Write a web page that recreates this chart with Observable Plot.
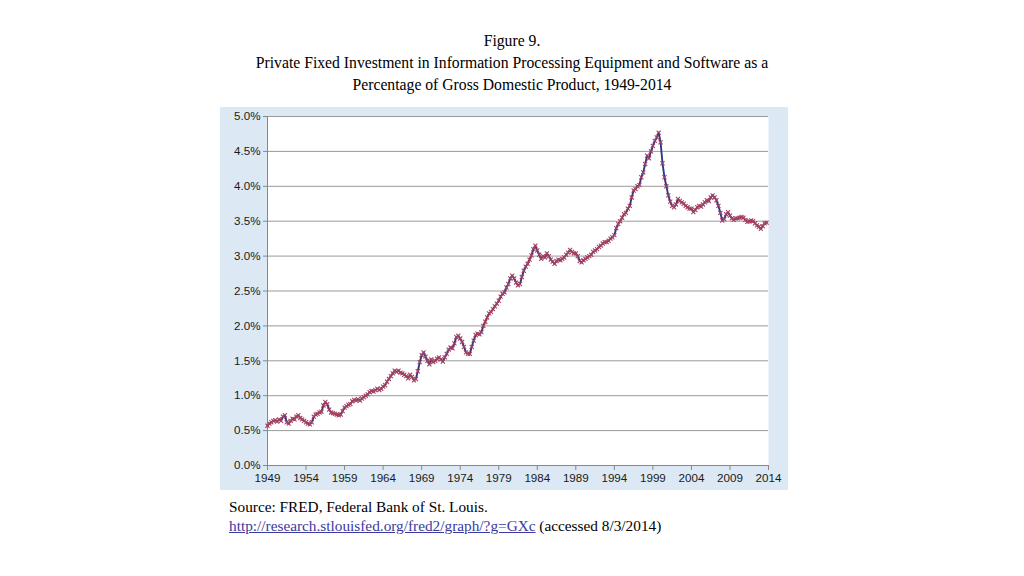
<!DOCTYPE html>
<html>
<head>
<meta charset="utf-8">
<script src="https://cdn.jsdelivr.net/npm/d3@7"></script>
<script src="https://cdn.jsdelivr.net/npm/@observablehq/plot@0.6"></script>
<style>
  html, body { margin: 0; padding: 0; background: #fff; }
  body { width: 1024px; height: 576px; position: relative; overflow: hidden; }
  .title { position: absolute; left: 0; width: 1024px; text-align: center; font-family: "Liberation Serif", "Times New Roman", serif; font-size: 15.7px; color: #000; white-space: nowrap; }
  .src { position: absolute; left: 229px; font-family: "Liberation Serif", "Times New Roman", serif; font-size: 15.3px; color: #000; white-space: nowrap; }
  .src a { color: #3a3aa0; text-decoration: underline; }
  #chart { position: absolute; left: 220px; top: 107px; }
  #chart svg { background: #dce9f5; }
</style>
</head>
<body>
<div class="title" style="top:32px">Figure 9.</div>
<div class="title" style="top:54px">Private Fixed Investment in Information Processing Equipment and Software as a</div>
<div class="title" style="top:76px">Percentage of Gross Domestic Product, 1949-2014</div>
<div id="chart"></div>
<div class="src" style="top:498px">Source: FRED, Federal Bank of St. Louis.</div>
<div class="src" style="top:517px"><a>http://research.stlouisfed.org/fred2/graph/?g=GXc</a> (accessed 8/3/2014)</div>
<script>
// Quarterly share of GDP (%), 1949Q1 .. 2013Q4
const firstYear = 1949;
const pct = [
  0.57, 0.60, 0.62, 0.64,  // 1949
  0.65, 0.63, 0.66, 0.64,  // 1950
  0.70, 0.72, 0.62, 0.60,  // 1951
  0.64, 0.67, 0.66, 0.70,  // 1952
  0.72, 0.68, 0.66, 0.64,  // 1953
  0.62, 0.60, 0.59, 0.62,  // 1954
  0.70, 0.73, 0.74, 0.76,  // 1955
  0.77, 0.86, 0.91, 0.88,  // 1956
  0.80, 0.76, 0.75, 0.74,  // 1957
  0.73, 0.72, 0.73, 0.78,  // 1958
  0.83, 0.85, 0.87, 0.88,  // 1959
  0.92, 0.94, 0.93, 0.95,  // 1960
  0.93, 0.96, 0.98, 1.00,  // 1961
  1.02, 1.05, 1.07, 1.06,  // 1962
  1.08, 1.10, 1.08, 1.10,  // 1963
  1.13, 1.15, 1.20, 1.24,  // 1964
  1.28, 1.32, 1.36, 1.34,  // 1965
  1.36, 1.33, 1.32, 1.30,  // 1966
  1.28, 1.25, 1.30, 1.27,  // 1967
  1.22, 1.24, 1.35, 1.48,  // 1968
  1.58, 1.62, 1.56, 1.50,  // 1969
  1.45, 1.52, 1.48, 1.50,  // 1970
  1.53, 1.55, 1.52, 1.49,  // 1971
  1.55, 1.60, 1.66, 1.69,  // 1972
  1.68, 1.75, 1.84, 1.86,  // 1973
  1.82, 1.77, 1.70, 1.62,  // 1974
  1.60, 1.60, 1.70, 1.79,  // 1975
  1.87, 1.89, 1.88, 1.91,  // 1976
  2.00, 2.06, 2.12, 2.18,  // 1977
  2.20, 2.24, 2.28, 2.32,  // 1978
  2.36, 2.42, 2.46, 2.48,  // 1979
  2.55, 2.60, 2.68, 2.72,  // 1980
  2.68, 2.62, 2.58, 2.60,  // 1981
  2.70, 2.79, 2.85, 2.89,  // 1982
  2.95, 3.01, 3.10, 3.15,  // 1983
  3.08, 3.02, 2.96, 3.00,  // 1984
  2.98, 3.04, 3.00, 2.95,  // 1985
  2.92, 2.89, 2.93, 2.95,  // 1986
  2.94, 2.96, 2.98, 3.02,  // 1987
  3.05, 3.09, 3.06, 3.04,  // 1988
  3.04, 3.00, 2.93, 2.91,  // 1989
  2.94, 2.96, 2.98, 3.00,  // 1990
  3.02, 3.06, 3.08, 3.10,  // 1991
  3.13, 3.15, 3.18, 3.20,  // 1992
  3.20, 3.22, 3.25, 3.27,  // 1993
  3.30, 3.40, 3.46, 3.50,  // 1994
  3.55, 3.60, 3.62, 3.68,  // 1995
  3.72, 3.84, 3.94, 3.96,  // 1996
  4.00, 4.02, 4.13, 4.20,  // 1997
  4.32, 4.44, 4.40, 4.50,  // 1998
  4.58, 4.65, 4.70, 4.77,  // 1999
  4.63, 4.33, 4.13, 4.00,  // 2000
  3.87, 3.78, 3.72, 3.70,  // 2001
  3.74, 3.82, 3.79, 3.77,  // 2002
  3.75, 3.72, 3.70, 3.68,  // 2003
  3.68, 3.63, 3.66, 3.70,  // 2004
  3.72, 3.71, 3.74, 3.77,  // 2005
  3.80, 3.79, 3.84, 3.87,  // 2006
  3.84, 3.80, 3.72, 3.62,  // 2007
  3.51, 3.53, 3.60, 3.63,  // 2008
  3.58, 3.54, 3.52, 3.54,  // 2009
  3.54, 3.55, 3.56, 3.55,  // 2010
  3.52, 3.49, 3.50, 3.51,  // 2011
  3.50, 3.47, 3.44, 3.42,  // 2012
  3.39, 3.43, 3.47, 3.48   // 2013
];
const xTicks = [1949, 1954, 1959, 1964, 1969, 1974, 1979, 1984, 1989, 1994, 1999, 2004, 2009, 2014];
const yTicks = [0, 0.5, 1.0, 1.5, 2.0, 2.5, 3.0, 3.5, 4.0, 4.5, 5.0];

const data = pct.map((v, i) => ({t: firstYear + i / 4, v}));

const chart = Plot.plot({
  width: 568,
  height: 383,
  marginLeft: 47,
  marginRight: 20,
  marginTop: 9,
  marginBottom: 25,
  style: {fontFamily: "'Liberation Sans', Arial, sans-serif", fontSize: "11.6px", color: "#1a1a1a", background: "#dce9f5"},
  x: {domain: [1949, 2014], label: null},
  y: {domain: [0, 5], label: null},
  marks: [
    Plot.frame({fill: "white", stroke: null}),
    Plot.gridY(yTicks, {stroke: "#9a9a9a", strokeOpacity: 1, strokeWidth: 1}),
    Plot.axisY({ticks: yTicks, tickFormat: d => d.toFixed(1) + "%", label: null, tickSize: 4, tickPadding: 3, stroke: "#888"}),
    Plot.axisX({ticks: xTicks, tickFormat: d => String(d), label: null, tickSize: 5, tickPadding: 3, stroke: "#888"}),
    Plot.ruleX([1949], {stroke: "#888"}),
    Plot.ruleY([0], {stroke: "#888"}),
    Plot.lineY(data, {x: "t", y: "v", stroke: "#2c3a88", strokeWidth: 1.9}),
    Plot.dot(data, {x: "t", y: "v", symbol: "times", r: 2, stroke: "#a8405f", strokeWidth: 1.1})
  ]
});
document.getElementById("chart").appendChild(chart);
</script>
</body>
</html>
